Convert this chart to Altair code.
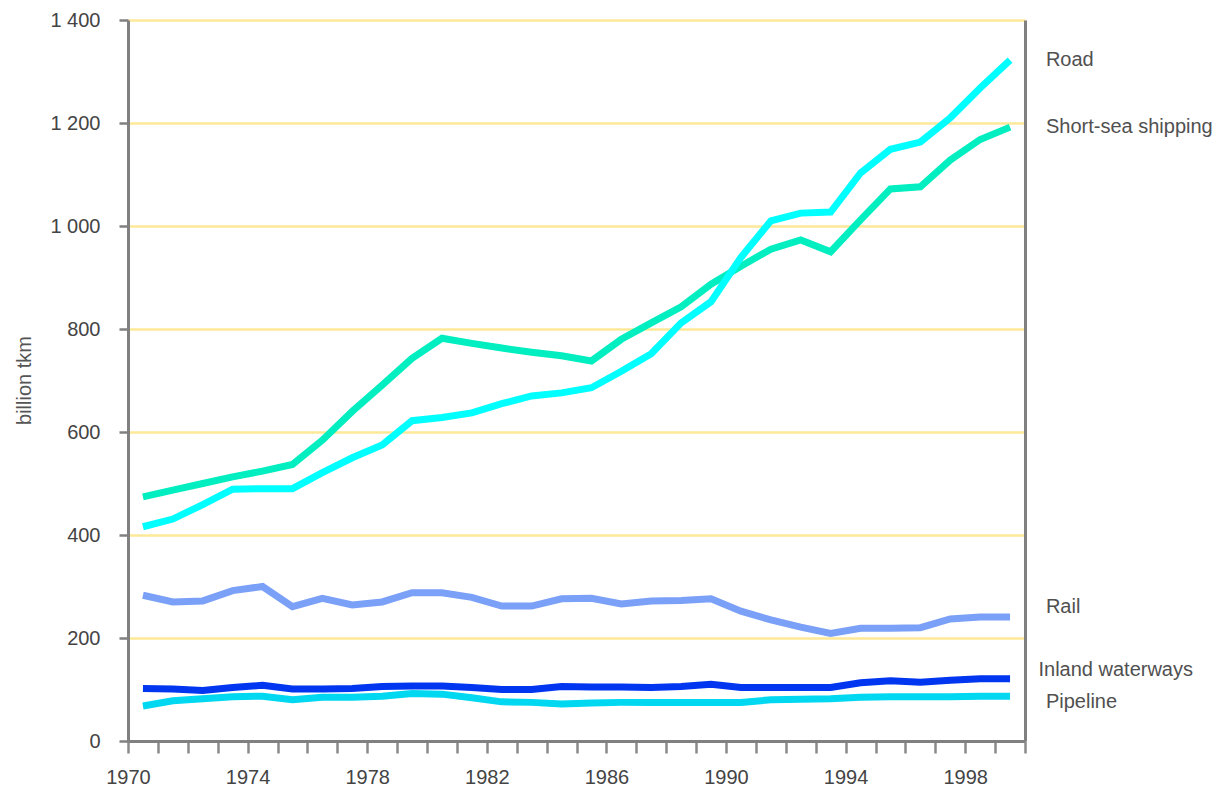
import altair as alt
import pandas as pd

years = list(range(1970, 2000))

road = [416, 431, 459, 489, 490, 490, 521, 550, 575, 622, 628, 637, 655, 670, 676,
        686, 718, 752, 812, 853, 939, 1010, 1025, 1027, 1103, 1149, 1163, 1210, 1268, 1322]
short_sea = [474, 487, 500, 513, 524, 537, 584, 640, 691, 743, 782, 772, 763, 755, 748,
             738, 780, 812, 843, 887, 922, 955, 973, 950, 1012, 1072, 1076, 1128, 1168, 1192]
rail = [283, 270, 272, 292, 300, 261, 277, 264, 270, 288, 288, 279, 262, 262, 276,
        277, 266, 272, 273, 276, 252, 235, 221, 209, 219, 219, 220, 237, 241, 241]
inland = [102, 101, 98, 104, 108, 101, 101, 102, 106, 107, 107, 104, 100, 100, 106,
          105, 105, 104, 106, 110, 104, 104, 104, 104, 113, 117, 114, 118, 121, 121]
pipeline = [68, 78, 82, 86, 87, 80, 85, 85, 87, 92, 91, 84, 76, 75, 72,
            74, 75, 75, 75, 75, 75, 80, 81, 82, 85, 86, 86, 86, 87, 87]

series_names = ["Road", "Short-sea shipping", "Rail", "Inland waterways", "Pipeline"]
series_values = [road, short_sea, rail, inland, pipeline]
series_colors = ["#00FFFF", "#00EEC0", "#7BA0F7", "#0036F0", "#00D7F0"]
draw_order = ["Rail", "Inland waterways", "Pipeline", "Short-sea shipping", "Road"]

# end-of-line annotation anchors (year, value)
label_names = ["Road", "Short-sea shipping", "Rail", "Inland waterways", "Pipeline"]
label_values = [1322, 1192, 260, 138, 76]
label_years = [2000.2, 2000.2, 2000.2, 1999.95, 2000.2]

y_ticks = [0, 200, 400, 600, 800, 1000, 1200, 1400]
x_ticks = [1969.5 + k for k in range(31)]

rows = []
for name, vals in zip(series_names, series_values):
    for yr, v in zip(years, vals):
        rows.append({"year": yr, "value": v, "mode": name})
df = pd.DataFrame(rows)

labels_df = pd.DataFrame({"year": label_years, "value": label_values, "mode": label_names})

FONT = "Liberation Sans"
xscale = alt.Scale(domain=[1969.5, 1999.5], nice=False, zero=False)
yscale = alt.Scale(domain=[0, 1400], nice=False, zero=True)
cscale = alt.Scale(domain=series_names, range=series_colors)

x_axis = alt.Axis(
    values=x_ticks,
    labelExpr="(datum.value - 1969.5) % 4 == 0 ? toString(datum.value + 0.5) : ''",
    grid=False, tickSize=12, tickWidth=2.5, tickColor="#8a8a8a",
    domainColor="#808080", domainWidth=3,
    labelFont=FONT, labelFontSize=20, labelColor="#444444", labelPadding=14,
    labelFlush=False, labelOverlap=False, title=None,
)

y_axis = alt.Axis(
    values=y_ticks,
    labelExpr="replace(format(datum.value, ','), ',', ' ')",
    grid=True, gridColor="#FFE897", gridWidth=2.5,
    tickSize=9, tickWidth=2.5, tickColor="#808080",
    domainColor="#808080", domainWidth=3,
    labelFont=FONT, labelFontSize=20, labelColor="#444444", labelPadding=19,
    title="billion tkm", titleFont=FONT, titleFontSize=20, titleFontWeight="normal",
    titleColor="#555555", titleX=-104, titleY=360, titleAngle=270,
    titleAlign="center", titleBaseline="middle",
)

layers = []
for i, name in enumerate(draw_order):
    layer = alt.Chart(df).transform_filter(
        alt.datum.mode == name
    ).mark_line(strokeWidth=7).encode(
        x=alt.X("year:Q", scale=xscale, axis=x_axis),
        y=alt.Y("value:Q", scale=yscale, axis=y_axis if i == 0 else None),
        color=alt.Color("mode:N", scale=cscale, legend=None),
    )
    layers.append(layer)

labels = alt.Chart(labels_df).mark_text(
    align="left", baseline="middle", font=FONT, fontSize=20, color="#505050"
).encode(
    x=alt.X("year:Q", scale=xscale, axis=x_axis),
    y=alt.Y("value:Q", scale=yscale, axis=alt.Axis(
        orient="right", labels=False, ticks=False, grid=False, title=None,
        domainColor="#808080", domainWidth=3)),
    text="mode:N",
)
layers.append(labels)

chart = alt.layer(*layers).resolve_axis(y="independent").properties(
    width=897, height=721,
    autosize=alt.AutoSizeParams(type="none"),
    padding={"left": 120, "top": 12, "right": 192, "bottom": 46},
    background="white",
).configure_view(stroke=None)

chart.save("out.html", embed_options={"renderer": "svg", "actions": False})
